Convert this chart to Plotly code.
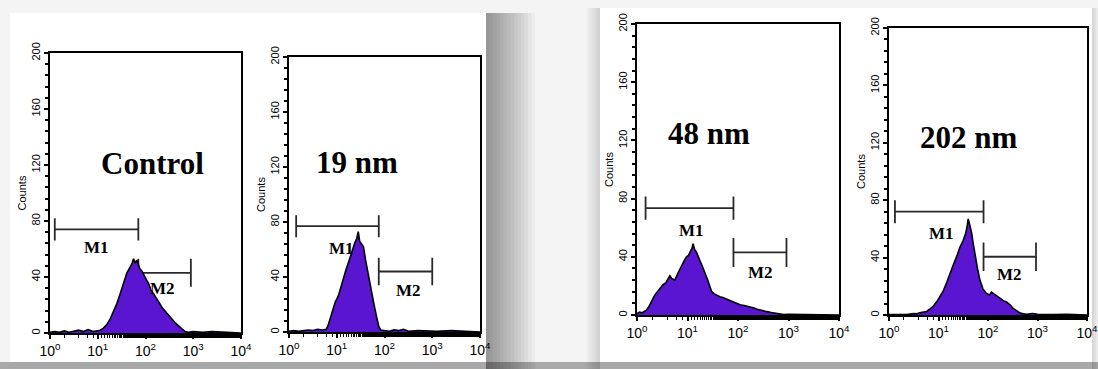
import numpy as np
import plotly.graph_objects as go

# ---------------- data (x in decades, log10 of fluorescence) ----------------
panel_names = ["Control", "19 nm", "48 nm", "202 nm"]

ctrl_log = [0.00, 0.10, 0.20, 0.30, 0.40, 0.50, 0.60, 0.70, 0.80, 0.90, 1.00, 1.05, 1.12, 1.19,
            1.26, 1.33, 1.40, 1.47, 1.54, 1.61, 1.66, 1.71, 1.75, 1.78, 1.82, 1.88, 1.93, 1.97,
            2.02, 2.07, 2.11, 2.16, 2.21, 2.26, 2.30, 2.35, 2.40, 2.44, 2.49, 2.54, 2.58, 2.63,
            2.68, 2.72, 2.78, 2.83, 2.90, 3.00, 3.20, 3.40, 3.60, 3.80, 4.00]
ctrl_cnt = [0.5, 1, 0.5, 1.5, 0.5, 1, 2, 1, 2.5, 1, 1.5, 2, 3.5, 6,
            10, 15, 21, 28, 35, 43, 46, 49, 53, 50, 52, 46, 44, 41,
            38, 35, 31, 28.5, 26, 23, 21, 18, 16, 14, 12, 10.5, 9, 7,
            5.5, 4.5, 2.5, 1, 0.5, 1, 0.5, 1, 0.5, 0.5, 0]

nm19_log = [0.00, 0.10, 0.20, 0.30, 0.40, 0.50, 0.60, 0.70, 0.78, 0.82, 0.87, 0.92, 0.97, 1.00,
            1.04, 1.09, 1.14, 1.19, 1.24, 1.29, 1.33, 1.38, 1.42, 1.45, 1.48, 1.52, 1.56, 1.60,
            1.63, 1.68, 1.73, 1.78, 1.84, 1.88, 1.92, 2.00, 2.10, 2.20, 2.30, 2.40, 2.50, 2.70,
            2.90, 3.10, 3.40, 3.70, 4.00]
nm19_cnt = [0.5, 1, 0.5, 1, 1.5, 1, 2, 1.5, 2, 5, 11, 17, 22, 24,
            27, 33, 40, 45, 50, 56, 60, 65, 68, 73, 66, 64, 62, 53,
            47, 39, 29, 20, 10, 4, 1.5, 1, 0.5, 1.5, 1, 2, 0.5, 1,
            0.5, 0.5, 1, 0.5, 0]

nm48_log = [0.00, 0.05, 0.10, 0.15, 0.19, 0.24, 0.29, 0.34, 0.38, 0.43, 0.48, 0.52, 0.57, 0.62,
            0.65, 0.69, 0.75, 0.80, 0.84, 0.88, 0.93, 0.98, 1.02, 1.06, 1.09, 1.11, 1.14, 1.18,
            1.21, 1.25, 1.30, 1.35, 1.40, 1.44, 1.48, 1.53, 1.58, 1.64, 1.70, 1.77, 1.84, 1.90,
            1.97, 2.04, 2.12, 2.20, 2.30, 2.38, 2.47, 2.57, 2.66, 2.75, 2.83, 2.90, 3.00, 3.30,
            3.60, 4.00]
nm48_cnt = [1, 2, 1.5, 2.5, 3.5, 6, 10, 13, 15, 17, 19, 21, 22, 25,
            27, 25, 24, 28, 31, 33, 37, 40, 41, 44, 46, 49, 45, 43,
            40, 37, 33, 29, 24, 20, 16, 14.5, 13.5, 12.5, 12, 11, 10, 9,
            8, 7, 6.5, 6, 5, 4, 3, 2.3, 1.7, 1.2, 0.7, 0.3, 0.5, 0.3,
            0.5, 0]

nm202_log = [0.00, 0.20, 0.35, 0.50, 0.56, 0.62, 0.70, 0.76, 0.82, 0.89, 0.96, 1.03, 1.10, 1.17,
             1.23, 1.30, 1.37, 1.43, 1.50, 1.55, 1.58, 1.60, 1.63, 1.67, 1.70, 1.74, 1.79, 1.84,
             1.90, 1.97, 2.03, 2.07, 2.11, 2.17, 2.24, 2.31, 2.38, 2.45, 2.51, 2.58, 2.65, 2.72,
             2.78, 2.90, 3.00, 3.30, 3.60, 4.00]
nm202_cnt = [0.3, 0.5, 0.3, 1, 0.8, 1.5, 2, 2.5, 4, 6, 9, 13, 17, 23,
             29, 35, 41, 47, 52, 57, 62, 67, 63, 57, 50, 41, 32, 24,
             18, 15, 14, 16, 15, 13, 11.5, 10, 9, 7, 4.6, 3, 1.3, 0.8,
             0.5, 1, 0.5, 0.3, 0.5, 0]

# gate markers: [start decade, end decade, height]
m1_gates = [[0.10, 1.85, 74], [0.15, 1.88, 77], [0.17, 1.91, 73.5], [0.12, 1.91, 72]]
m2_gates = [[1.85, 2.95, 43], [1.88, 3.00, 44], [1.91, 2.96, 43], [1.91, 2.97, 40.6]]
# label positions (decade, counts)
m1_labels = [[0.98, 61], [1.10, 61], [1.08, 58], [1.06, 57]]
m2_labels = [[2.35, 32], [2.50, 30.5], [2.44, 29.5], [2.44, 28]]
title_pos = [[2.14, 121], [1.42, 123], [1.43, 125], [1.60, 124]]

y_ticks = [0, 40, 80, 120, 160, 200]
x_tickvals = [1, 10, 100, 1000, 10000]
x_ticktext = ["10<sup>0</sup>", "10<sup>1</sup>", "10<sup>2</sup>", "10<sup>3</sup>", "10<sup>4</sup>"]

logs = [ctrl_log, nm19_log, nm48_log, nm202_log]
cnts = [ctrl_cnt, nm19_cnt, nm48_cnt, nm202_cnt]

# ---------------- layout geometry (pixels) ----------------
W, H = 1098, 369
boxes = [(50, 241, 53, 333), (289, 480, 57, 332), (637, 839, 24, 315), (889, 1087, 28, 315)]

fig = go.Figure()

FILL = "#5a15d0"
for i in range(4):
    xa = "x" if i == 0 else f"x{i+1}"
    ya = "y" if i == 0 else f"y{i+1}"
    # gate markers first, histogram drawn on top
    for g, d in ((m1_gates[i], 8), (m2_gates[i], 10)):
        a, b, h = g
        fig.add_trace(go.Scatter(
            x=[10**a, 10**a, 10**a, 10**b, 10**b, 10**b],
            y=[h - d, h + d, h, h, h + d, h - d],
            mode="lines", line=dict(color="#2a2a2a", width=1.8),
            xaxis=xa, yaxis=ya, showlegend=False, hoverinfo="skip"))
    xv = np.power(10.0, np.array(logs[i]))
    fig.add_trace(go.Scatter(x=xv, y=cnts[i], mode="lines", fill="tozeroy",
                             fillcolor=FILL, line=dict(color="black", width=1.6),
                             xaxis=xa, yaxis=ya, showlegend=False, hoverinfo="skip"))
    axref = dict(xref=xa, yref=ya, showarrow=False)
    fig.add_annotation(x=title_pos[i][0], y=title_pos[i][1], text=f"<b>{panel_names[i]}</b>",
                       font=dict(family="Liberation Serif", size=31, color="black"), **axref)
    fig.add_annotation(x=m1_labels[i][0], y=m1_labels[i][1], text="<b>M1</b>",
                       font=dict(family="Liberation Serif", size=17, color="black"), **axref)
    fig.add_annotation(x=m2_labels[i][0], y=m2_labels[i][1], text="<b>M2</b>",
                       font=dict(family="Liberation Serif", size=17, color="black"), **axref)

    x0, x1, ytop, ybot = boxes[i]
    xdom = [x0 / W, x1 / W]
    ydom = [1 - ybot / H, 1 - ytop / H]
    xkey = "xaxis" if i == 0 else f"xaxis{i+1}"
    ykey = "yaxis" if i == 0 else f"yaxis{i+1}"
    fig.update_layout(**{
        xkey: dict(domain=xdom, type="log", range=[0, 4], anchor=ya,
                   tickvals=x_tickvals, ticktext=x_ticktext, ticklabeloverflow="allow",
                   showline=True, linecolor="black", linewidth=2, mirror=True,
                   ticks="outside", ticklen=4, tickwidth=1.5, tickcolor="black",
                   minor=dict(ticks="outside", ticklen=3, tickcolor="black", tickwidth=1.2),
                   showgrid=False, zeroline=False, automargin=False,
                   tickfont=dict(family="Liberation Sans Narrow, Liberation Sans", size=14, color="black")),
        ykey: dict(domain=ydom, range=[0, 200], anchor=xa,
                   tickvals=y_ticks, tickangle=-90, ticklabeloverflow="allow",
                   showline=True, linecolor="black", linewidth=2, mirror=True,
                   ticks="outside", ticklen=4, tickwidth=1.5, tickcolor="black",
                   minor=dict(dtick=8, ticks="outside", ticklen=3, tickcolor="black", tickwidth=1.8),
                   showgrid=False, zeroline=False, automargin=False,
                   title=dict(text="Counts", standoff=1,
                              font=dict(family="Liberation Sans", size=11, color="black")),
                   tickfont=dict(family="Liberation Sans", size=11, color="black")),
    })

# ---------------- card backgrounds and shadows ----------------
def rect(px0, py0, px1, py1, color, opacity=1.0):
    return dict(type="rect", xref="paper", yref="paper", layer="below",
                x0=px0 / W, x1=px1 / W, y0=1 - py1 / H, y1=1 - py0 / H,
                fillcolor=color, opacity=opacity, line=dict(width=0))

shapes = []
# bottom grey strip
shapes.append(rect(0, 362, W, H, "#a8a8a8"))
# left card soft shadow to the right
for k in range(1, 15):
    shapes.append(rect(486, 13, 486 + 3.5 * k, 369, "black", 0.03))
# right card soft shadow to the left
for k in range(1, 8):
    shapes.append(rect(600 - 2 * k, 8, 600, 369, "black", 0.018))
# right edge shadow of right card
for k in range(1, 4):
    shapes.append(rect(1092, 8, 1092 + 2 * k, 369, "black", 0.04))
# cards
shapes.append(rect(10, 13, 486, 362, "white"))
shapes.append(rect(600, 8, 1092, 362, "white"))
fig.update_layout(shapes=shapes)

fig.update_layout(width=W, height=H, margin=dict(l=0, r=0, t=0, b=0),
                  paper_bgcolor="#f4f4f4", plot_bgcolor="rgba(0,0,0,0)",
                  showlegend=False)

fig.write_html("out.html")
